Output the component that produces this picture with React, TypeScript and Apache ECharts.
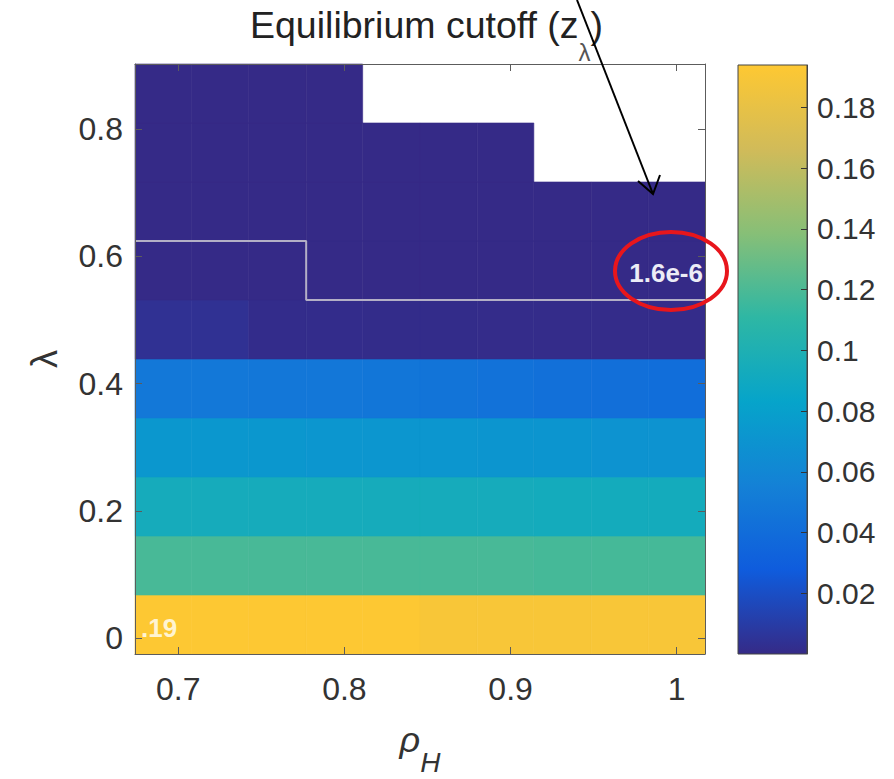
import React, { useEffect, useRef } from "react";
import * as echarts from "echarts";

// Column centres (ρ_H) and row centres (λ) of the computed grid
const rhoH = [0.691, 0.725, 0.76, 0.794, 0.828, 0.863, 0.897, 0.931, 0.966, 1.0];
const lambda = [0.0214, 0.1141, 0.2069, 0.2996, 0.3924, 0.4851, 0.5779, 0.6706, 0.7634, 0.8561];

// Equilibrium cutoff z_λ, one list per λ row (bottom to top); null = no equilibrium
const cutoffRow0 = [0.1935, 0.1935, 0.1935, 0.1935, 0.1935, 0.19, 0.19, 0.19, 0.19, 0.19];
const cutoffRow1 = [0.119, 0.119, 0.119, 0.119, 0.119, 0.119, 0.119, 0.118, 0.118, 0.118];
const cutoffRow2 = [0.094, 0.094, 0.094, 0.094, 0.094, 0.094, 0.094, 0.093, 0.093, 0.093];
const cutoffRow3 = [0.073, 0.073, 0.073, 0.072, 0.072, 0.072, 0.071, 0.071, 0.07, 0.07];
const cutoffRow4 = [0.049, 0.049, 0.048, 0.048, 0.047, 0.046, 0.044, 0.043, 0.042, 0.041];
const cutoffRow5 = [0.004, 0.004, 0.0012, 0.0012, 0.0011, 0.0011, 0.001, 0.001, 0.0009, 0.0009];
const cutoffRow6 = [3e-5, 3e-5, 2.5e-5, 1.2e-5, 9e-6, 6e-6, 4e-6, 3e-6, 2.2e-6, 1.6e-6];
const cutoffRow7 = [8e-6, 6e-6, 5e-6, 4e-6, 3e-6, 2.5e-6, 2e-6, 1.9e-6, 1.8e-6, 1.7e-6];
const cutoffRow8 = [5e-6, 4e-6, 3e-6, 2.5e-6, 2e-6, 1.9e-6, 1.8e-6, null, null, null];
const cutoffRow9 = [4e-6, 3e-6, 2.5e-6, 2e-6, null, null, null, null, null, null];
const cutoff = [
  cutoffRow0, cutoffRow1, cutoffRow2, cutoffRow3, cutoffRow4,
  cutoffRow5, cutoffRow6, cutoffRow7, cutoffRow8, cutoffRow9,
];

// Cells whose value is printed on the map
const annotatedCells = [
  { row: 0, col: 0, side: "left" },
  { row: 6, col: 9, side: "right" },
];

// Region boundary, as (ρ_H edge index, λ edge index) corners
const boundaryCorners = [
  [0, 7],
  [3, 7],
  [3, 6],
  [10, 6],
];

// Colour scale
const colorMin = 0;
const colorMax = 0.194;
const colorStep = 0.02;
const parula = ["#352a87", "#0f5cdd", "#1481d6", "#06a4ca", "#2eb7a4", "#87bf77", "#d1bb59", "#fec832"];

const FONT = '"Liberation Sans", Arial, Helvetica, sans-serif';
const AXIS_COLOR = "#5c5c5c";
const TEXT_COLOR = "#333333";

function edgesOf(c: number[]): number[] {
  const e = [c[0] - (c[1] - c[0]) / 2];
  for (let i = 0; i < c.length - 1; i++) e.push((c[i] + c[i + 1]) / 2);
  const n = c.length;
  e.push(c[n - 1] + (c[n - 1] - c[n - 2]) / 2);
  return e;
}

function formatCell(v: number): string {
  if (v >= 0.01) return v.toFixed(2).replace(/^0/, "");
  return v.toExponential(1);
}

export default function App() {
  const ref = useRef<HTMLDivElement>(null);

  useEffect(() => {
    if (!ref.current) return;
    const chart = echarts.init(ref.current, undefined, { renderer: "svg" });

    const rhoEdges = edgesOf(rhoH);
    const lamEdges = edgesOf(lambda);

    const cells: any[] = [];
    cutoff.forEach((rowVals, r) => {
      rowVals.forEach((v, c) => {
        if (v === null || v === undefined) return;
        const ann = annotatedCells.find((a) => a.row === r && a.col === c);
        const flag = ann ? (ann.side === "left" ? 1 : 2) : 0;
        cells.push([rhoEdges[c], lamEdges[r], rhoEdges[c + 1], lamEdges[r + 1], v, flag]);
      });
    });

    const boundary = boundaryCorners.map(([i, j]) => [rhoEdges[i], lamEdges[j]]);

    const stops = parula.map((color, i) => ({ offset: i / (parula.length - 1), color }));

    const xCommon = {
      type: "value",
      gridIndex: 0,
      min: rhoEdges[0],
      max: rhoEdges[rhoEdges.length - 1],
      splitNumber: 3,
      splitLine: { show: false },
      axisLine: { show: true, onZero: false, lineStyle: { color: AXIS_COLOR, width: 1 } },
      axisTick: { show: true, inside: true, length: 7, lineStyle: { color: AXIS_COLOR } },
      z: 5,
    };
    const yCommon = {
      type: "value",
      gridIndex: 0,
      min: lamEdges[0],
      max: lamEdges[lamEdges.length - 1],
      splitNumber: 5,
      splitLine: { show: false },
      axisLine: { show: true, onZero: false, lineStyle: { color: AXIS_COLOR, width: 1 } },
      axisTick: { show: true, inside: true, length: 7, lineStyle: { color: AXIS_COLOR } },
      z: 5,
    };

    chart.setOption({
      animation: false,
      backgroundColor: "#ffffff",
      grid: [
        { left: 135, top: 64, width: 570, height: 590, containLabel: false, outerBoundsMode: "none" },
        { left: 738, top: 65, width: 69, height: 589, containLabel: false, outerBoundsMode: "none" },
      ],
      xAxis: [
        {
          ...xCommon,
          position: "bottom",
          axisLabel: {
            fontSize: 32,
            fontFamily: FONT,
            color: TEXT_COLOR,
            margin: 19,
            showMinLabel: false,
            showMaxLabel: false,
          },
          name: "{r|ρ}{h|H}",
          nameLocation: "middle",
          nameGap: 48,
          nameTextStyle: {
            rich: {
              r: { fontSize: 36, fontStyle: "italic", fontFamily: FONT, color: TEXT_COLOR },
              h: { fontSize: 28, fontStyle: "italic", fontFamily: FONT, color: TEXT_COLOR, padding: [46, 0, 0, 0] },
            },
          },
        },
        { ...xCommon, position: "top", axisLabel: { show: false } },
        { type: "value", gridIndex: 1, min: 0, max: 1, show: false },
      ],
      yAxis: [
        {
          ...yCommon,
          position: "left",
          axisLabel: {
            fontSize: 32,
            fontFamily: FONT,
            color: TEXT_COLOR,
            margin: 12,
            showMinLabel: false,
            showMaxLabel: false,
          },
          name: "λ",
          nameLocation: "middle",
          nameRotate: 90,
          nameGap: 73,
          nameTextStyle: { fontSize: 36, fontFamily: FONT, color: TEXT_COLOR },
        },
        { ...yCommon, position: "right", axisLabel: { show: false } },
        {
          type: "value",
          gridIndex: 1,
          position: "right",
          min: colorMin,
          max: colorMax,
          interval: colorStep,
          splitLine: { show: false },
          axisLine: { show: true, onZero: false, lineStyle: { color: "#444", width: 1 } },
          axisTick: { show: true, inside: true, length: 6, lineStyle: { color: "#333" } },
          axisLabel: {
            fontSize: 30,
            fontFamily: FONT,
            color: TEXT_COLOR,
            margin: 10,
            showMinLabel: false,
            showMaxLabel: false,
          },
          z: 5,
        },
      ],
      visualMap: {
        type: "continuous",
        show: false,
        seriesIndex: 0,
        dimension: 4,
        min: colorMin,
        max: colorMax,
        inRange: { color: parula },
      },
      graphic: [
        {
          type: "text",
          x: 250,
          y: 25,
          z: 10,
          style: {
            text: "{m|Equilibrium cutoff (z}{s|λ}{m|)}",
            verticalAlign: "middle",
            align: "left",
            rich: {
              m: { fontSize: 37.5, fontFamily: FONT, fill: "#222" },
              s: { fontSize: 24, fontFamily: FONT, fill: "#555", padding: [54, 0, 0, 0] },
            },
          },
        },
        {
          type: "ellipse",
          z: 20,
          shape: { cx: 671, cy: 271, rx: 56, ry: 39 },
          style: { fill: "none", stroke: "#e8161c", lineWidth: 4 },
        },
        {
          type: "line",
          z: 20,
          shape: { x1: 577, y1: 0, x2: 653, y2: 194 },
          style: { stroke: "#000", lineWidth: 2 },
        },
        {
          type: "polyline",
          z: 20,
          shape: { points: [[638, 181], [653, 194], [660, 175]] },
          style: { stroke: "#000", lineWidth: 2, fill: "none" },
        },
      ],
      series: [
        {
          type: "custom",
          xAxisIndex: 0,
          yAxisIndex: 0,
          encode: { x: [0, 2], y: [1, 3] },
          data: cells,
          z: 2,
          silent: true,
          renderItem: (params: any, api: any) => {
            const x0 = api.value(0);
            const y0 = api.value(1);
            const x1 = api.value(2);
            const y1 = api.value(3);
            const v = api.value(4);
            const flag = api.value(5);
            const a = api.coord([x0, y1]);
            const b = api.coord([x1, y0]);
            const color = api.visual("color");
            const children: any[] = [
              {
                type: "rect",
                shape: { x: a[0], y: a[1], width: b[0] - a[0], height: b[1] - a[1] },
                style: { fill: color, stroke: color, lineWidth: 0.6 },
              },
            ];
            if (flag === 1 || flag === 2) {
              children.push({
                type: "text",
                z2: 10,
                style: {
                  text: formatCell(v),
                  x: flag === 1 ? a[0] + 6 : b[0] - 2,
                  y: (a[1] + b[1]) / 2 + 3,
                  align: flag === 1 ? "left" : "right",
                  verticalAlign: "middle",
                  font: `bold 26px ${FONT}`,
                  fill: flag === 1 ? "#fff4d2" : "#ececf6",
                },
              });
            }
            return { type: "group", children };
          },
        },
        {
          type: "line",
          xAxisIndex: 0,
          yAxisIndex: 0,
          data: boundary,
          symbol: "none",
          silent: true,
          z: 3,
          lineStyle: { color: "#b3afc6", width: 2 },
        },
        {
          type: "custom",
          xAxisIndex: 2,
          yAxisIndex: 2,
          data: [[0, colorMin, 1, colorMax]],
          silent: true,
          z: 2,
          renderItem: (params: any, api: any) => {
            const a = api.coord([api.value(0), api.value(3)]);
            const b = api.coord([api.value(2), api.value(1)]);
            return {
              type: "rect",
              shape: { x: a[0], y: a[1], width: b[0] - a[0], height: b[1] - a[1] },
              style: {
                fill: new echarts.graphic.LinearGradient(0, 1, 0, 0, stops),
                stroke: "#444",
                lineWidth: 1,
              },
            };
          },
        },
      ],
    });

    return () => chart.dispose();
  }, []);

  return (
    <div
      ref={ref}
      style={{ position: "fixed", left: 0, top: 0, width: 894, height: 779, background: "#fff" }}
    />
  );
}
